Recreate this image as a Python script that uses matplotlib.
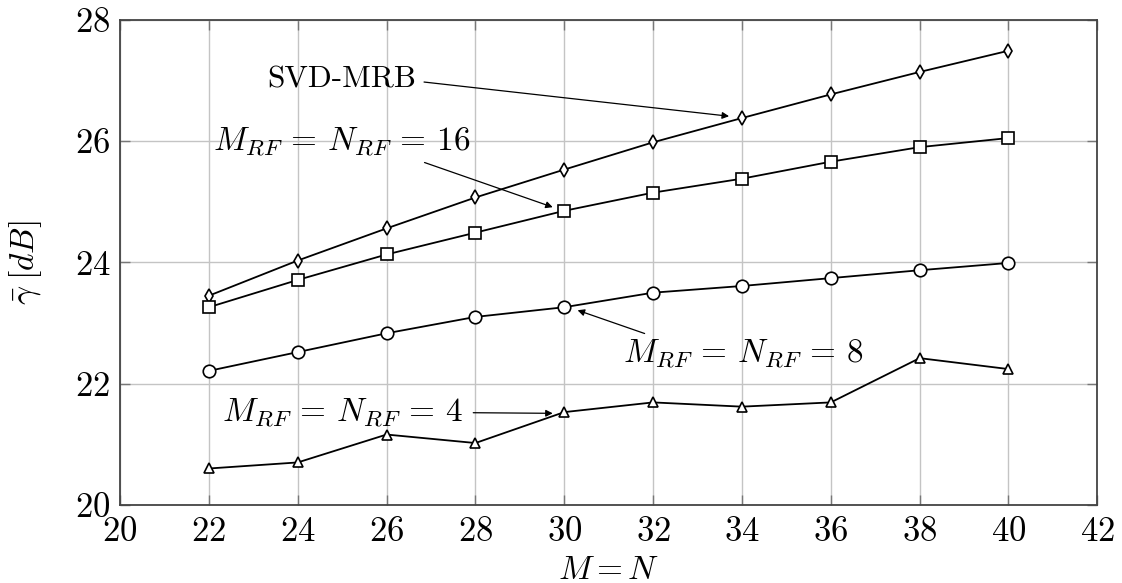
import matplotlib
matplotlib.use("Agg")
import matplotlib.pyplot as plt

plt.rcParams["mathtext.fontset"] = "cm"
plt.rcParams["font.family"] = ["cmr10", "DejaVu Serif"]
plt.rcParams["axes.formatter.use_mathtext"] = True

# Array size M = N
sizes = [22, 24, 26, 28, 30, 32, 34, 36, 38, 40]

# Average achieved SNR in dB for each scheme
svd_mrb = [23.45, 24.03, 24.56, 25.07, 25.53, 25.98, 26.38, 26.77, 27.14, 27.49]
rf16 = [23.26, 23.71, 24.13, 24.49, 24.85, 25.15, 25.38, 25.66, 25.90, 26.05]
rf8 = [22.21, 22.52, 22.83, 23.10, 23.26, 23.50, 23.61, 23.74, 23.87, 23.99]
rf4 = [20.60, 20.70, 21.16, 21.02, 21.53, 21.69, 21.62, 21.69, 22.42, 22.24]

x_ticks = [20, 22, 24, 26, 28, 30, 32, 34, 36, 38, 40, 42]
y_ticks = [20, 22, 24, 26, 28]

fig = plt.figure(figsize=(11.22, 5.83), dpi=100)
ax = fig.add_axes([0.107, 0.134, 0.871, 0.832])

common = dict(color="black", lw=1.3, mfc="white", mec="black", mew=1.2)
ax.plot(sizes, svd_mrb, marker="d", ms=7, **common)
ax.plot(sizes, rf16, marker="s", ms=9, **common)
ax.plot(sizes, rf8, marker="o", ms=9, **common)
ax.plot(sizes, rf4, marker="^", ms=7, **common)

ax.set_xlim(20, 42)
ax.set_ylim(20, 28)
ax.set_xticks(x_ticks)
ax.set_yticks(y_ticks)
ax.grid(True, color="#c4c4c4", lw=1.0)
ax.set_axisbelow(True)
ax.tick_params(axis="both", direction="in", length=7, width=1.0, color="#777777",
               top=True, right=True, labelsize=25)
ax.tick_params(axis="x", pad=8)
ax.tick_params(axis="y", pad=7)
for s in ax.spines.values():
    s.set_color("#444444")
    s.set_linewidth(1.3)

ax.set_xlabel(r"$M{=}N$", fontsize=24, labelpad=6)
ax.set_ylabel(r"$\bar{\gamma}\;[dB]$", fontsize=24, labelpad=22)

arrow = dict(arrowstyle="-|>", color="black", lw=0.9, mutation_scale=10, shrinkA=0, shrinkB=0)

ax.annotate("SVD-MRB", xy=(33.71, 26.41), xytext=(25.0, 27.02),
            fontsize=22.5, ha="center", va="center", arrowprops=dict(arrow, relpos=(1.05, 0.4)))
ax.annotate(r"$M_{RF}\,=\,N_{RF}\,=\,16$", xy=(29.74, 24.91), xytext=(25.0, 26.0),
            fontsize=24, ha="center", va="center",
            arrowprops=dict(arrow, relpos=(0.82, -0.15)))
ax.annotate(r"$M_{RF}\,=\,N_{RF}\,=\,8$", xy=(30.30, 23.21), xytext=(34.03, 22.50),
            fontsize=24, ha="center", va="center",
            arrowprops=dict(arrow, relpos=(0.09, 1.1)))
ax.annotate(r"$M_{RF}\,=\,N_{RF}\,=\,4$", xy=(29.74, 21.51), xytext=(25.02, 21.52),
            fontsize=24, ha="center", va="center",
            arrowprops=dict(arrow, relpos=(1.04, 0.5)))

fig.savefig("out.png", dpi=100)
